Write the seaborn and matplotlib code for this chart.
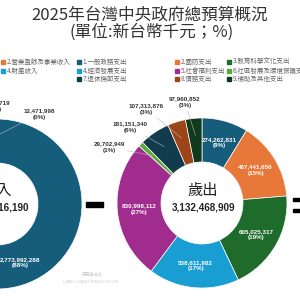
import matplotlib
matplotlib.use("Agg")
import matplotlib.pyplot as plt
from matplotlib.patches import Rectangle
import numpy as np
import seaborn as sns

# 歲出 (expenditure), unit: NT$ thousand
exp_labels = ["1.一般政務支出", "2.國防支出", "3.教育科學文化支出",
              "4.經濟發展支出", "5.社會福利支出", "6.社區發展及環境保護支出",
              "7.退休撫卹支出", "8.債務支出", "9.補助及其他支出"]
exp_values = [274262831, 467441650, 605025317, 538611982, 830998112,
              29702949, 181151340, 107313876, 97960852]
exp_total = 3132468909

# 歲入 (revenue), unit: NT$ thousand
rev_labels = ["1.稅課收入", "2.營業盈餘及事業收入", "3.規費及罰款收入",
              "4.財產收入", "5.其他收入"]
rev_values = [2773992288, 227431463, 95281722, 37538719, 12471998]
rev_total = 3146716190

palette = ["#165d7c", "#e8783a", "#1f6b2c", "#199ed4", "#a02c8e",
           "#5ba93b", "#123b4d", "#9c4519", "#0f3a1d"]

# which slices get an outside label, and where the label sits (pixel coords)
exp_outside = {5: (109, 147), 6: (130, 127), 7: (146, 109), 8: (185, 102)}
rev_outside = {1: (-60, 130), 2: (-30, 112), 3: (-5, 106), 4: (39, 114)}

sns.set_theme(style="white")
num_font = ["Liberation Sans", "Noto Sans CJK TC", "DejaVu Sans"]
cjk_font = ["Noto Sans CJK TC", "DejaVu Sans"]
plt.rcParams["font.family"] = cjk_font

fig = plt.figure(figsize=(3, 3), dpi=100)
ax = fig.add_axes([0, 0, 1, 1])

R = 85
R_in = 41


def label_text(v, total):
    return f"{v:,}\n({round(v / total * 100):.0f}%)"


def donut(values, total, center, outside):
    # y axis is inverted, so counterclock here draws clockwise on screen
    wedges, _ = ax.pie(values, colors=palette[:len(values)], startangle=-90,
                       counterclock=True, radius=R, center=center,
                       wedgeprops=dict(width=R - R_in, edgecolor="white",
                                       linewidth=0.5))
    cx, cy = center
    for i, w in enumerate(wedges):
        th = np.deg2rad((w.theta1 + w.theta2) / 2)
        if i in outside:
            lx, ly = outside[i]
            ax_, ay_ = cx + 0.8 * R * np.cos(th), cy + 0.8 * R * np.sin(th)
            dx, dy = ax_ - lx, ay_ - ly
            s = min(18 / max(abs(dx), 1e-6), 9 / max(abs(dy), 1e-6), 1)
            ax.plot([ax_, lx + dx * s], [ay_, ly + dy * s], color="#b5b5b5",
                    lw=0.4, zorder=3)
            ax.text(lx, ly, label_text(values[i], total), ha="center",
                    va="center", fontsize=4.5, fontweight="bold",
                    color="#333333", family=num_font, linespacing=1.3,
                    zorder=4)
        else:
            rm = (R + R_in) / 2
            ax.text(cx + rm * np.cos(th), cy + rm * np.sin(th),
                    label_text(values[i], total), ha="center", va="center",
                    fontsize=4.5, fontweight="bold", color="white",
                    family=num_font, linespacing=1.3, zorder=4)


donut(rev_values, rev_total, (-3, 204), rev_outside)
donut(exp_values, exp_total, (202, 203), exp_outside)

# centre captions
ax.text(-3, 190, "歲入", ha="center", va="center", fontsize=11, color="#222222")
ax.text(-3, 207, f"{rev_total:,}", ha="center", va="center", fontsize=7.1,
        fontweight="bold", color="#222222", family=num_font)
ax.text(203, 190, "歲出", ha="center", va="center", fontsize=11, color="#222222")
ax.text(203, 207, f"{exp_total:,}", ha="center", va="center", fontsize=7.1,
        fontweight="bold", color="#222222", family=num_font)

# minus and equals signs between the donuts
ax.add_patch(Rectangle((86, 202), 17, 5, color="black", zorder=5))
ax.add_patch(Rectangle((293, 197.5), 10, 3.5, color="black", zorder=5))
ax.add_patch(Rectangle((293, 208.5), 10, 3.5, color="black", zorder=5))

# title
ax.text(150, 15, "2025年台灣中央政府總預算概況", ha="center", va="center",
        fontsize=12, color="#333333")
ax.text(152, 32, "(單位:新台幣千元；%)", ha="center", va="center",
        fontsize=12, color="#333333")

# legends (drawn by hand, grid layout)
rows = [62, 70.5, 79]
rev_cols = [-70, 1]
exp_cols = [77, 175, 227]
for i, lab in enumerate(rev_labels):
    x, y = rev_cols[i % 2], rows[i // 2]
    ax.add_patch(Rectangle((x, y - 2), 4, 4, color=palette[i]))
    ax.text(x + 5.5, y, lab, ha="left", va="center", fontsize=4.7,
            color="#666666")
for i, lab in enumerate(exp_labels):
    x, y = exp_cols[i % 3], rows[i // 3]
    ax.add_patch(Rectangle((x, y - 2), 4, 4, color=palette[i]))
    ax.text(x + 5.5, y, lab, ha="left", va="center", fontsize=4.7,
            color="#666666")

# faint watermark
ax.text(92, 275, "亮亮嗑經濟", ha="center", va="center", fontsize=3,
        color="#cccccc")
ax.text(91, 282, "LIANG LIANG READS ECON", ha="center", va="center",
        fontsize=3, color="#cccccc", family=num_font)

ax.set_xlim(0, 300)
ax.set_ylim(300, 0)
ax.set_aspect("equal")
ax.axis("off")

fig.savefig("out.png", dpi=100)
